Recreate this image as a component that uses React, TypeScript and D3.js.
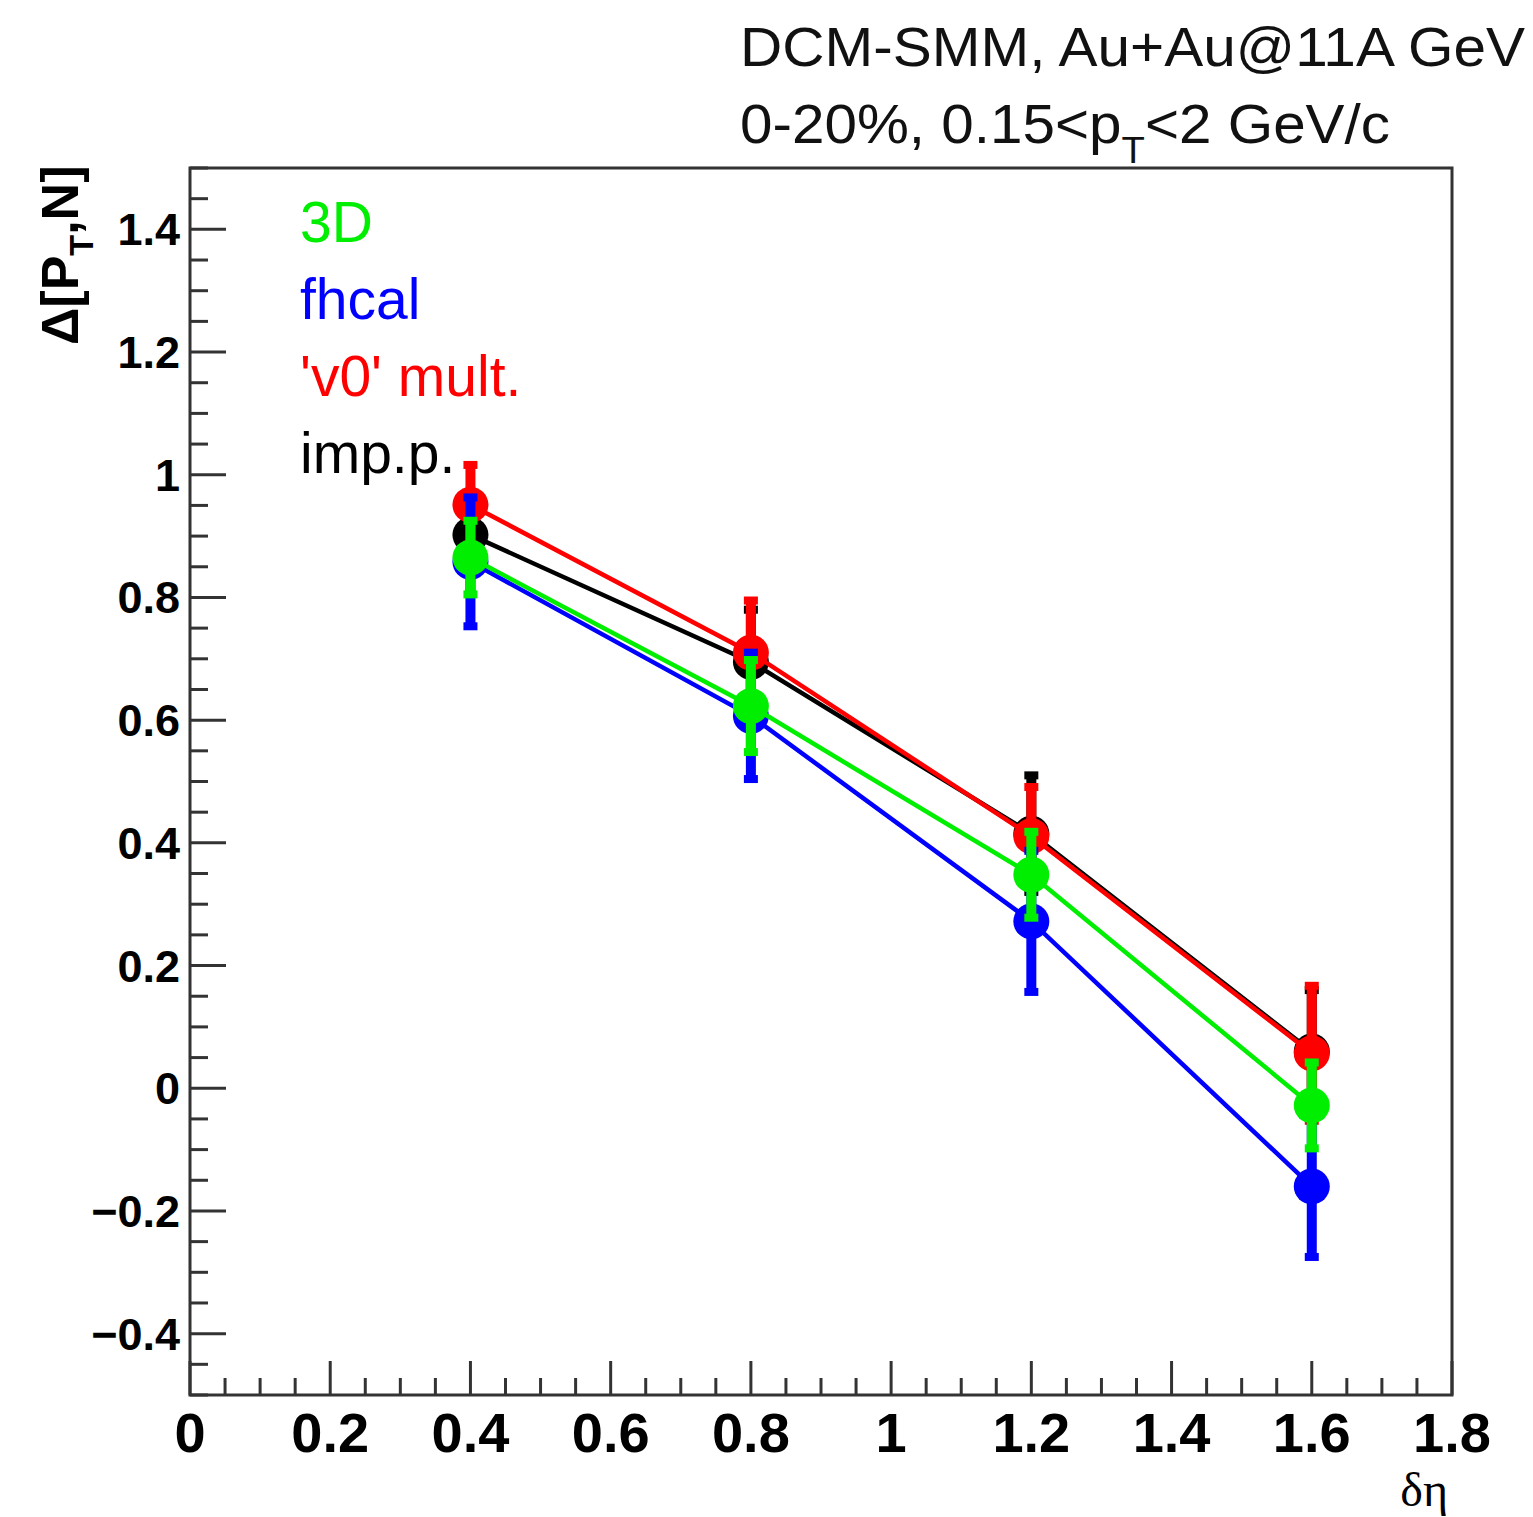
import React from "react";
import * as d3 from "d3";

const xVals = [0.4, 0.8, 1.2, 1.6];
const impVals = [0.902, 0.695, 0.415, 0.06];
const impErr = [0.055, 0.085, 0.095, 0.1];
const v0Vals = [0.951, 0.71, 0.411, 0.057];
const v0Err = [0.065, 0.085, 0.08, 0.11];
const fhcalVals = [0.858, 0.607, 0.272, -0.16];
const fhcalErr = [0.105, 0.103, 0.115, 0.115];
const d3Vals = [0.865, 0.623, 0.348, -0.028];
const d3Err = [0.06, 0.075, 0.07, 0.07];
const xTicks = [0, 0.2, 0.4, 0.6, 0.8, 1, 1.2, 1.4, 1.6, 1.8];
const yTicks = [-0.4, -0.2, 0, 0.2, 0.4, 0.6, 0.8, 1, 1.2, 1.4];
const legendLabels = ["3D", "fhcal", "'v0' mult.", "imp.p."];

const W = 1533, H = 1517;
const L = 190, R = 1452, T = 168, B = 1395;

export default function App() {
  const x = d3.scaleLinear().domain([0, 1.8]).range([L, R]);
  const y = d3.scaleLinear().domain([-0.5, 1.5]).range([B, T]);
  const series = [
    { vals: impVals, err: impErr, color: "#000000" },
    { vals: v0Vals, err: v0Err, color: "#ff0000" },
    { vals: fhcalVals, err: fhcalErr, color: "#0000ff" },
    { vals: d3Vals, err: d3Err, color: "#00ee00" },
  ];
  const legendColors = ["#00ee00", "#0000ff", "#ff0000", "#000000"];
  const line = d3.line<number>().x((_, i) => x(xVals[i])).y((v) => y(v));
  const minorX = d3.range(0, 1.8001, 0.05);
  const minorY = d3.range(-0.5, 1.5001, 0.05);
  const frame = "#333";
  return (
    <svg width={W} height={H} style={{ display: "block", position: "absolute", left: 0, top: 0 }} fontFamily="'Liberation Sans', Arial, sans-serif">
      <rect x={0} y={0} width={W} height={H} fill="#fff" />
      {/* header */}
      <text x={740} y={66} fontSize={55} fill="#111" textLength={785} lengthAdjust="spacingAndGlyphs">DCM-SMM, Au+Au@11A GeV</text>
      <text x={740} y={143} fontSize={55} fill="#111" textLength={650} lengthAdjust="spacingAndGlyphs">
        0-20%, 0.15&lt;p<tspan fontSize={36} dy={20}>T</tspan><tspan dy={-20}>&lt;2 GeV/c</tspan>
      </text>
      {/* ticks */}
      {minorX.map((t, i) => {
        const major = i % 4 === 0;
        const len = major ? 34 : 17;
        return <line key={"xt" + i} x1={x(t)} x2={x(t)} y1={B} y2={B - len} stroke={frame} strokeWidth={3} />;
      })}
      {minorY.map((t, i) => {
        const major = i % 4 === 2;
        const len = major ? 36 : 18;
        return <line key={"yt" + i} x1={L} x2={L + len} y1={y(t)} y2={y(t)} stroke={frame} strokeWidth={3} />;
      })}
      <rect x={L} y={T} width={R - L} height={B - T} fill="none" stroke={frame} strokeWidth={3} />
      {/* tick labels */}
      {xTicks.map((t) => (
        <text key={"xl" + t} x={x(t)} y={1452} fontSize={56} fontWeight="bold" textAnchor="middle" fill="#000">{d3.format("")(t)}</text>
      ))}
      {yTicks.map((t) => (
        <text key={"yl" + t} x={180} y={y(t) + 16} fontSize={45} fontWeight="bold" textAnchor="end" fill="#000">{t < 0 ? "\u2212" + Math.abs(t) : String(t)}</text>
      ))}
      {/* axis titles */}
      <text x={1448} y={1506} fontSize={48} textAnchor="end" fontFamily="'Liberation Serif', 'DejaVu Serif', serif" fill="#000">δη</text>
      <text transform="translate(78,345) rotate(-90)" fontSize={52} fontWeight="bold" fill="#000">
        Δ[P<tspan fontSize={34} dy={15}>T</tspan><tspan dy={-15}>,N]</tspan>
      </text>
      {/* data */}
      {series.map((s, si) => (
        <g key={"s" + si}>
          <path d={line(s.vals) || ""} fill="none" stroke={s.color} strokeWidth={4.5} />
          {s.vals.map((v, i) => (
            <g key={i}>
              <line x1={x(xVals[i])} x2={x(xVals[i])} y1={y(v - s.err[i])} y2={y(v + s.err[i])} stroke={s.color} strokeWidth={10} />
              <rect x={x(xVals[i]) - 7} y={y(v + s.err[i]) - 4} width={14} height={8} fill={s.color} />
              <rect x={x(xVals[i]) - 7} y={y(v - s.err[i]) - 4} width={14} height={8} fill={s.color} />
              <circle cx={x(xVals[i])} cy={y(v)} r={18} fill={s.color} />
            </g>
          ))}
        </g>
      ))}
      {/* legend */}
      {legendLabels.map((lab, i) => (
        <text key={lab} x={300} y={242 + i * 77} fontSize={57} fill={legendColors[i]}>{lab}</text>
      ))}
    </svg>
  );
}
